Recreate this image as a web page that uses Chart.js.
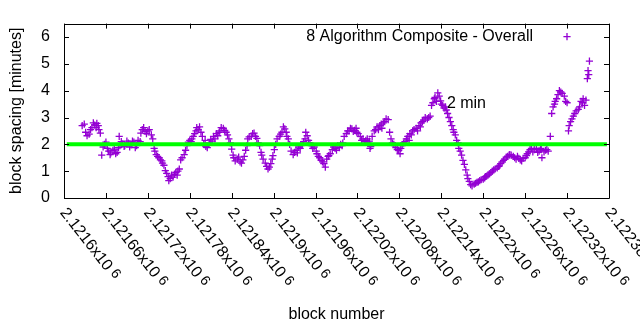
<!DOCTYPE html>
<html>
<head>
<meta charset="utf-8">
<script src="https://cdn.jsdelivr.net/npm/chart.js@4/dist/chart.umd.min.js"></script>
<style>
  html, body { margin: 0; padding: 0; background: #fff; }
  canvas { display: block; }
</style>
</head>
<body>
<canvas id="chart" width="640" height="330"></canvas>
<script>
// Block numbers and the spacing (in minutes) measured at each block
const blocks = [
  2121626, 2121629, 2121631, 2121633, 2121636, 2121638, 2121640, 2121642, 2121644, 2121646,
  2121647, 2121649, 2121650, 2121652, 2121654, 2121656, 2121658, 2121660, 2121662, 2121664,
  2121666, 2121667, 2121670, 2121672, 2121674, 2121676, 2121678, 2121679, 2121680, 2121682,
  2121684, 2121686, 2121687, 2121690, 2121692, 2121694, 2121696, 2121698, 2121700, 2121702,
  2121704, 2121706, 2121709, 2121710, 2121712, 2121714, 2121716, 2121718, 2121720, 2121722,
  2121725, 2121727, 2121729, 2121730, 2121732, 2121734, 2121736, 2121738, 2121740, 2121741,
  2121743, 2121745, 2121747, 2121749, 2121750, 2121752, 2121754, 2121756, 2121758, 2121760,
  2121762, 2121763, 2121765, 2121767, 2121769, 2121772, 2121774, 2121776, 2121778, 2121780,
  2121782, 2121783, 2121785, 2121787, 2121789, 2121790, 2121792, 2121794, 2121796, 2121798,
  2121800, 2121802, 2121803, 2121805, 2121808, 2121810, 2121812, 2121814, 2121816, 2121818,
  2121820, 2121822, 2121823, 2121825, 2121828, 2121830, 2121832, 2121834, 2121836, 2121838,
  2121840, 2121842, 2121843, 2121845, 2121848, 2121850, 2121852, 2121854, 2121856, 2121858,
  2121860, 2121862, 2121863, 2121865, 2121868, 2121870, 2121872, 2121874, 2121876, 2121878,
  2121880, 2121882, 2121883, 2121885, 2121888, 2121890, 2121892, 2121894, 2121896, 2121898,
  2121899, 2121901, 2121903, 2121905, 2121908, 2121910, 2121912, 2121914, 2121916, 2121918,
  2121919, 2121921, 2121923, 2121925, 2121928, 2121930, 2121932, 2121934, 2121936, 2121938,
  2121939, 2121941, 2121943, 2121945, 2121946, 2121948, 2121950, 2121952, 2121954, 2121956,
  2121958, 2121961, 2121962, 2121964, 2121966, 2121968, 2121970, 2121972, 2121974, 2121976,
  2121978, 2121979, 2121981, 2121984, 2121986, 2121988, 2121990, 2121992, 2121994, 2121996,
  2121998, 2121999, 2122001, 2122004, 2122006, 2122008, 2122010, 2122012, 2122014, 2122016,
  2122018, 2122019, 2122021, 2122024, 2122026, 2122028, 2122030, 2122032, 2122034, 2122035,
  2122037, 2122038, 2122039, 2122041, 2122044, 2122046, 2122048, 2122050, 2122052, 2122054,
  2122055, 2122057, 2122059, 2122061, 2122064, 2122066, 2122068, 2122070, 2122072, 2122074,
  2122075, 2122077, 2122079, 2122081, 2122082, 2122084, 2122086, 2122088, 2122090, 2122092,
  2122094, 2122095, 2122097, 2122099, 2122101, 2122104, 2122106, 2122108, 2122110, 2122111,
  2122113, 2122115, 2122117, 2122120, 2122122, 2122124, 2122126, 2122128, 2122130, 2122131,
  2122133, 2122135, 2122137, 2122139, 2122140, 2122142, 2122144, 2122146, 2122147, 2122149,
  2122151, 2122153, 2122155, 2122157, 2122158, 2122160, 2122162, 2122164, 2122165, 2122167,
  2122169, 2122171, 2122173, 2122175, 2122177, 2122178, 2122180, 2122182, 2122184, 2122187,
  2122189, 2122191, 2122193, 2122195, 2122197, 2122200, 2122202, 2122203, 2122205, 2122207,
  2122209, 2122211, 2122213, 2122215, 2122217, 2122220, 2122222, 2122223, 2122225, 2122227,
  2122229, 2122231, 2122233, 2122235, 2122237, 2122238, 2122240, 2122243, 2122245, 2122247,
  2122249, 2122251, 2122253, 2122255, 2122257, 2122260, 2122262, 2122263, 2122265, 2122267,
  2122269, 2122271, 2122273, 2122276, 2122278, 2122280, 2122282, 2122283, 2122284, 2122287,
  2122289, 2122291, 2122293, 2122296, 2122298, 2122300, 2122302, 2122303, 2122305, 2122307,
  2122309, 2122311, 2122313, 2122316, 2122318, 2122320, 2122322, 2122323, 2122325, 2122327,
  2122329, 2122331, 2122333, 2122336, 2122338, 2122340, 2122342, 2122343, 2122345, 2122347,
  2122349, 2122350, 2122351, 2122352
];
const spacing = [
  2.70, 2.75, 2.45, 2.32, 2.38, 2.55, 2.62, 2.80, 2.72, 2.62,
  2.78, 2.70, 2.55, 2.42, 1.60, 1.90, 2.00, 2.08, 1.85, 1.75,
  1.62, 1.68, 1.78, 1.82, 1.65, 1.70, 1.88, 2.30, 1.95, 2.10,
  2.02, 1.92, 1.95, 2.12, 2.05, 1.90, 1.98, 2.12, 2.08, 1.88,
  1.95, 2.15, 2.10, 2.42, 2.55, 2.62, 2.48, 2.40, 2.50, 2.55,
  2.35, 2.20, 1.85, 1.75, 1.62, 1.55, 1.50, 1.42, 1.38, 1.30,
  1.22, 1.02, 0.92, 0.80, 0.65, 0.72, 0.85, 0.78, 0.88, 0.95,
  0.85, 1.00, 1.08, 1.42, 1.50, 1.62, 1.78, 1.95, 2.08, 2.15,
  2.10, 2.20, 2.30, 2.40, 2.50, 2.62, 2.55, 2.65, 2.45, 2.30,
  2.00, 2.15, 1.92, 1.88, 2.05, 2.18, 2.12, 2.30, 2.20, 2.40,
  2.32, 2.45, 2.50, 2.62, 2.60, 2.52, 2.45, 2.35, 2.20, 2.05,
  1.82, 1.60, 1.50, 1.38, 1.45, 1.52, 1.35, 1.30, 1.42, 1.55,
  1.78, 1.95, 2.20, 2.28, 2.30, 2.40, 2.42, 2.30, 2.22, 2.05,
  1.95, 1.70, 1.60, 1.45, 1.30, 1.18, 1.08, 1.15, 1.28, 1.45,
  1.58, 1.80, 2.00, 2.20, 2.30, 2.38, 2.45, 2.65, 2.58, 2.45,
  2.30, 2.20, 2.00, 1.75, 1.62, 1.70, 1.78, 1.68, 1.90, 1.85,
  1.95, 2.00, 2.10, 2.20, 2.45, 2.32, 2.15, 2.05, 1.95, 1.85,
  1.90, 1.75, 1.65, 1.55, 1.50, 1.40, 1.35, 1.28, 1.15, 1.45,
  1.55, 1.58, 1.65, 1.80, 1.90, 1.85, 1.78, 1.95, 1.88, 2.00,
  1.95, 2.05, 2.30, 2.40, 2.50, 2.50, 2.60, 2.58, 2.48, 2.52,
  2.60, 2.45, 2.40, 2.30, 2.15, 2.20, 2.10, 2.15, 2.20, 2.08,
  2.12, 1.85, 1.92, 2.30, 2.50, 2.55, 2.65, 2.55, 2.70, 2.75,
  2.60, 2.80, 2.85, 2.95, 2.92, 2.45, 2.20, 2.05, 2.00, 1.95,
  1.88, 1.80, 1.78, 1.65, 1.85, 1.95, 2.05, 2.10, 2.20, 2.30,
  2.15, 2.40, 2.35, 2.50, 2.55, 2.60, 2.50, 2.70, 2.65, 2.80,
  2.85, 2.90, 3.00, 2.95, 3.00, 3.05, 3.45, 3.55, 3.70, 3.75,
  3.60, 3.92, 3.80, 3.62, 3.50, 3.45, 3.35, 3.40, 3.28, 3.15,
  3.00, 2.85, 2.70, 2.55, 2.45, 2.35, 2.15, 2.05, 1.85, 1.75,
  1.60, 1.40, 1.25, 1.05, 0.85, 0.72, 0.62, 0.50, 0.45, 0.52,
  0.55, 0.58, 0.60, 0.65, 0.68, 0.70, 0.75, 0.80, 0.82, 0.86,
  0.90, 0.95, 1.00, 1.05, 1.08, 1.12, 1.18, 1.20, 1.28, 1.35,
  1.40, 1.45, 1.52, 1.55, 1.60, 1.62, 1.60, 1.55, 1.50, 1.45,
  1.55, 1.48, 1.42, 1.38, 1.48, 1.50, 1.58, 1.65, 1.72, 1.80,
  1.85, 1.72, 1.80, 1.85, 1.70, 1.75, 1.85, 1.80, 1.50, 1.72,
  1.78, 1.80, 1.75, 2.30, 3.15, 3.40, 3.50, 3.60, 3.70, 3.85,
  4.00, 3.95, 3.90, 3.80, 3.60, 3.55, 2.50, 2.70, 2.85, 2.95,
  3.05, 3.15, 3.25, 3.30, 3.40, 3.60, 3.55, 3.70, 3.45, 3.65,
  4.45, 4.75, 4.60, 5.10
];

// Reference line: the 2 minute target
const targetMinutes = 2;
const targetSpan = [2121604, 2122377];
const targetLabel = '2 min';
const targetLabelAt = [2122148, 3.5];

// Axis ticks
const xTickValues = [
  2121600, 2121660, 2121720, 2121780, 2121840, 2121900, 2121960,
  2122020, 2122080, 2122140, 2122200, 2122260, 2122320, 2122380
];
const xTickLabels = [
  '2.1216', '2.12166', '2.12172', '2.12178', '2.12184', '2.1219', '2.12196',
  '2.12202', '2.12208', '2.12214', '2.1222', '2.12226', '2.12232', '2.12238'
];
const xTickExponent = '6';
const yTickValues = [0, 1, 2, 3, 4, 5, 6];

const seriesLabel = '8 Algorithm Composite - Overall';

const FONT = "'Liberation Sans', Arial, Helvetica, sans-serif";
const PURPLE = '#9400d3';
const GREEN = '#00ff00';
const MARK_R = 3.6;

Chart.defaults.font.family = FONT;
Chart.defaults.font.size = 16;
Chart.defaults.color = '#000';

// Frame, inward tick marks, rotated x labels, key and target label
const decorations = {
  id: 'decorations',
  afterDatasetsDraw(chart) {
    const { ctx, chartArea: a, scales: { x, y } } = chart;
    const tick = 5;
    ctx.save();
    ctx.strokeStyle = '#000';
    ctx.lineWidth = 1;
    ctx.beginPath();
    ctx.rect(Math.round(a.left) + 0.5, Math.round(a.top) + 0.5,
             Math.round(a.right - a.left), Math.round(a.bottom - a.top));
    yTickValues.forEach(v => {
      const py = Math.round(y.getPixelForValue(v)) + 0.5;
      ctx.moveTo(a.left, py); ctx.lineTo(a.left + tick, py);
      ctx.moveTo(a.right, py); ctx.lineTo(a.right - tick, py);
    });
    xTickValues.forEach(v => {
      const px = Math.round(x.getPixelForValue(v)) + 0.5;
      ctx.moveTo(px, a.bottom); ctx.lineTo(px, a.bottom - tick);
      ctx.moveTo(px, a.top); ctx.lineTo(px, a.top + tick);
    });
    ctx.stroke();

    // rotated x tick labels with a raised exponent
    ctx.fillStyle = '#000';
    xTickValues.forEach((v, i) => {
      const px = x.getPixelForValue(v);
      ctx.save();
      ctx.translate(px - 1, a.bottom + 12);
      ctx.rotate(52 * Math.PI / 180);
      ctx.textAlign = 'left';
      ctx.textBaseline = 'middle';
      ctx.font = '16px ' + FONT;
      const s = xTickLabels[i] + 'x10';
      ctx.fillText(s, 0, 0);
      const w = ctx.measureText(s).width;
      ctx.font = '14px ' + FONT;
      ctx.fillText(xTickExponent, w + 4, -2);
      ctx.restore();
    });

    // key: text right-aligned, then a sample marker
    ctx.font = '16px ' + FONT;
    ctx.textAlign = 'right';
    ctx.textBaseline = 'middle';
    const ky = a.top + 13;
    ctx.fillText(seriesLabel, a.right - 76, ky);
    ctx.strokeStyle = PURPLE;
    ctx.lineWidth = 1.3;
    const kx = a.right - 42;
    ctx.beginPath();
    ctx.moveTo(kx - MARK_R, ky); ctx.lineTo(kx + MARK_R, ky);
    ctx.moveTo(kx, ky - MARK_R); ctx.lineTo(kx, ky + MARK_R);
    ctx.stroke();

    // target label
    ctx.textAlign = 'left';
    ctx.fillStyle = '#000';
    ctx.fillText(targetLabel, x.getPixelForValue(targetLabelAt[0]), y.getPixelForValue(targetLabelAt[1]));
    ctx.restore();
  }
};

new Chart(document.getElementById('chart'), {
  type: 'scatter',
  data: {
    datasets: [
      {
        label: 'target',
        data: targetSpan.map(b => ({ x: b, y: targetMinutes })),
        showLine: true,
        borderColor: GREEN,
        borderWidth: 4,
        pointRadius: 0,
        borderCapStyle: 'butt'
      },
      {
        label: seriesLabel,
        data: blocks.map((b, i) => ({ x: b, y: spacing[i] })),
        pointStyle: 'cross',
        pointRadius: MARK_R,
        pointBorderWidth: 1.3,
        borderColor: PURPLE,
        backgroundColor: PURPLE
      }
    ]
  },
  options: {
    responsive: false,
    animation: false,
    devicePixelRatio: 1,
    layout: { padding: { top: 19, right: 31, left: 0, bottom: 0 } },
    plugins: { legend: { display: false }, tooltip: { enabled: false } },
    scales: {
      x: {
        type: 'linear',
        min: 2121600,
        max: 2122380,
        grid: { display: false, drawTicks: false },
        border: { display: false },
        ticks: { display: false },
        afterBuildTicks: s => { s.ticks = xTickValues.map(v => ({ value: v })); },
        afterFit: s => { s.height = 132; },
        title: { display: true, text: 'block number', padding: { top: 0, bottom: 6 } }
      },
      y: {
        min: 0,
        max: 6.5,
        grid: { display: false, drawTicks: false },
        border: { display: false },
        ticks: { padding: 14, font: { size: 16 } },
        afterBuildTicks: s => { s.ticks = yTickValues.map(v => ({ value: v })); },
        afterFit: s => { s.width = 64; },
        title: { display: true, text: 'block spacing [minutes]', padding: { top: 7, bottom: 0 } }
      }
    }
  },
  plugins: [decorations]
});
</script>
</body>
</html>
